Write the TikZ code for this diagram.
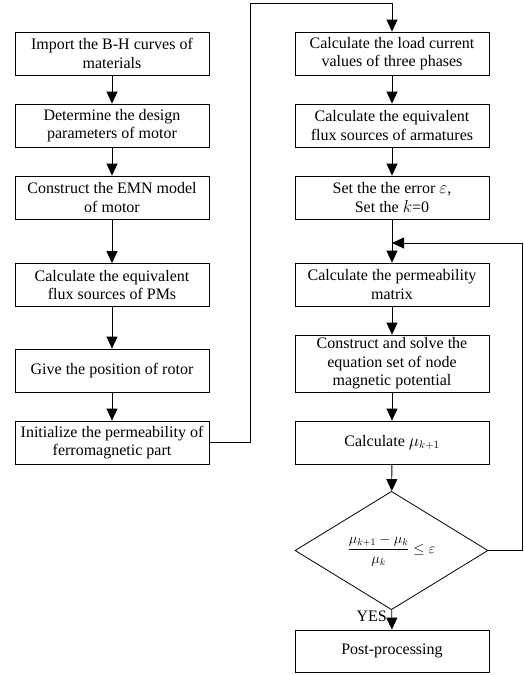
\documentclass[tikz,border=0pt]{standalone}
\usepackage{fontspec}
\setmainfont{Liberation Serif}
\usetikzlibrary{shapes.geometric,arrows.meta}
\begin{document}
\begin{tikzpicture}[x=1pt,y=-1pt,
  box/.style={draw,line width=0.8pt,minimum width=194pt,minimum height=43pt,align=center,inner sep=1pt,font=\fontsize{16}{18.5}\selectfont},
  arr/.style={-{Triangle[length=12pt,width=11pt]},line width=0.8pt},
  lbl/.style={font=\fontsize{16}{18.5}\selectfont,inner sep=0pt}]
\useasboundingbox (0,0) rectangle (524,675);
% left column
\node[box] (a1) at (112,53.5) {Import the B-H curves of\\materials};
\node[box] (a2) at (112,125.5) {Determine the design\\parameters of motor};
\node[box] (a3) at (112,197.5) {Construct the EMN model\\of motor};
\node[box] (a4) at (112,285) {Calculate the equivalent\\flux sources of PMs};
\node[box] (a5) at (112,370.5) {Give the position of rotor};
\node[box] (a6) at (112,442.5) {Initialize the permeability of\\ferromagnetic part};
% right column
\node[box] (b1) at (392,53.5) {Calculate the load current\\values of three phases};
\node[box] (b2) at (392,125.5) {Calculate the equivalent\\flux sources of armatures};
\node[box] (b3) at (392,197.5) {Set the the error $\varepsilon$,\\Set the $k$=0};
\node[box] (b4) at (392,284.5) {Calculate the permeability\\matrix};
\node[box,minimum height=57pt] (b5) at (392,363.5) {Construct and solve the\\equation set of node\\magnetic potential};
\node[box] (b6) at (392,442.5) {Calculate $\mu_{k+1}$};
\node[draw,diamond,line width=0.8pt,minimum width=193pt,minimum height=85pt,inner sep=0pt,font=\fontsize{14}{17}\selectfont] (d) at (391.5,550.5) {$\displaystyle\frac{\mu_{k+1}-\mu_k}{\mu_k}\le\varepsilon$};
\node[box,minimum height=42pt] (b7) at (392,651) {Post-processing};
\node[lbl,anchor=south east] (yes) at (387,622) {YES};
% coordinates
\coordinate (top) at (250,3);
\coordinate (m) at (392,243);
\coordinate (rt) at (522.5,550.5);
% connectors
\draw[arr] (a1) -- (a2);
\draw[arr] (a2) -- (a3);
\draw[arr] (a3) -- (a4);
\draw[arr] (a4) -- (a5);
\draw[arr] (a5) -- (a6);
\draw[arr] (a6.east) -| (top) -| (b1.north);
\draw[arr] (b1) -- (b2);
\draw[arr] (b2) -- (b3);
\draw[arr] (b3) -- (b4);
\draw[arr] (b4) -- (b5);
\draw[arr] (b5) -- (b6);
\draw[arr] (b6) -- (d);
\draw[arr] (d) -- (b7);
\draw[arr] (d.east) -- (rt) |- (m);
\end{tikzpicture}
\end{document}
